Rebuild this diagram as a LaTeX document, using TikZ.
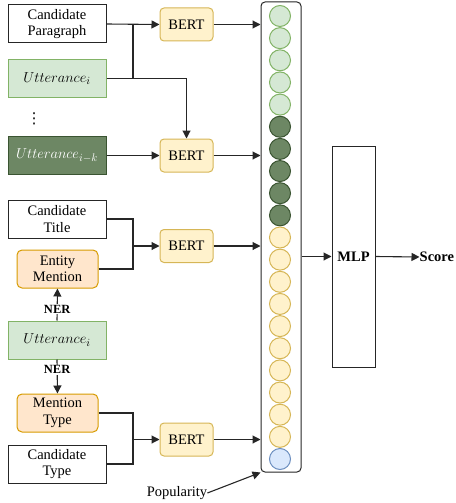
\documentclass[tikz,border=0pt]{standalone}
\usepackage{fontspec}
\setmainfont{Liberation Serif}
\newfontfamily\symfont{DejaVu Sans}
\usetikzlibrary{arrows.meta}
\definecolor{uttfill}{HTML}{D5E8D4}
\definecolor{uttline}{HTML}{82B366}
\definecolor{oldfill}{HTML}{6D8764}
\definecolor{oldline}{HTML}{3A5431}
\definecolor{bertfill}{HTML}{FFF2CC}
\definecolor{bertline}{HTML}{D6B656}
\definecolor{nerfill}{HTML}{FFE6CC}
\definecolor{nerline}{HTML}{D79B00}
\definecolor{popfill}{HTML}{DAE8FC}
\definecolor{popline}{HTML}{6C8EBF}
\begin{document}
\begin{tikzpicture}[x=1pt,y=-1pt,
    font=\fontsize{14.5}{16.5}\selectfont,
    every node/.style={inner sep=0pt},
    txtbox/.style={draw=black!85,fill=white,line width=1pt,
      minimum width=98pt,minimum height=38pt,align=center},
    uttbox/.style={txtbox,draw=uttline,fill=uttfill,
      font=\fontsize{15}{17}\selectfont},
    oldbox/.style={uttbox,draw=oldline,fill=oldfill,text=white},
    nerbox/.style={txtbox,draw=nerline,fill=nerfill,rounded corners=5pt,
      minimum width=81pt},
    bertbox/.style={draw=bertline,fill=bertfill,line width=1pt,
      rounded corners=4pt,minimum width=53pt,minimum height=33pt},
    cell/.style={circle,line width=1pt,minimum size=21pt},
    ycell/.style={cell,draw=bertline,fill=bertfill},
    gcell/.style={cell,draw=uttline,fill=uttfill},
    dcell/.style={cell,draw=oldline,fill=oldfill},
    pcell/.style={cell,draw=popline,fill=popfill},
    boldtext/.style={font=\fontsize{14.5}{17}\selectfont\bfseries},
    nerlabel/.style={fill=white,inner sep=1pt,
      font=\fontsize{12.5}{14}\selectfont\bfseries},
    arr/.style={-{Triangle[length=8pt,width=8pt]},line width=1.1pt,draw=black!85},
    wire/.style={line width=1.1pt,draw=black!85}]
  \useasboundingbox (0,0) rectangle (455,503);
  % inputs
  \node[txtbox] (cp) at (57,24) {Candidate\\Paragraph};
  \node[uttbox] (u1) at (57,78.5) {$Utterance_i$};
  \node[font=\symfont\fontsize{15}{15}\selectfont] (dots) at (34,118.5) {⋮};
  \node[oldbox] (uk) at (57,155.5) {$Utterance_{i-k}$};
  \node[txtbox] (ct) at (57,219) {Candidate\\Title};
  \node[nerbox] (em) at (57.5,269) {Entity\\Mention};
  \node[uttbox] (u2) at (57,340) {$Utterance_i$};
  \node[nerbox] (mt) at (57.5,413) {Mention\\Type};
  \node[txtbox] (cty) at (57,464) {Candidate\\Type};
  \node (pop) at (177,493) {Popularity};
  % encoders
  \node[bertbox] (b1) at (186.5,24.5) {BERT};
  \node[bertbox] (b2) at (186.5,155.5) {BERT};
  \node[bertbox] (b3) at (186.5,246) {BERT};
  \node[bertbox] (b4) at (186.5,439.5) {BERT};
  % feature vector
  \node[draw=black!85,line width=1pt,rounded corners=4pt,
    minimum width=40pt,minimum height=470pt] (col) at (281,237) {};
  \node[gcell] (c1) at (280,16) {};
  \node[gcell] (c2) at (280,38.15) {};
  \node[gcell] (c3) at (280,60.3) {};
  \node[gcell] (c4) at (280,82.45) {};
  \node[gcell] (c5) at (280,104.6) {};
  \node[dcell] (c6) at (280,126.75) {};
  \node[dcell] (c7) at (280,148.9) {};
  \node[dcell] (c8) at (280,171.05) {};
  \node[dcell] (c9) at (280,193.2) {};
  \node[dcell] (c10) at (280,215.35) {};
  \node[ycell] (c11) at (280,237.5) {};
  \node[ycell] (c12) at (280,259.65) {};
  \node[ycell] (c13) at (280,281.8) {};
  \node[ycell] (c14) at (280,303.95) {};
  \node[ycell] (c15) at (280,326.1) {};
  \node[ycell] (c16) at (280,348.25) {};
  \node[ycell] (c17) at (280,370.4) {};
  \node[ycell] (c18) at (280,392.55) {};
  \node[ycell] (c19) at (280,414.7) {};
  \node[ycell] (c20) at (280,436.85) {};
  \node[pcell] (c21) at (280,459) {};
  % classifier
  \node[draw=black!85,line width=1pt,minimum width=43pt,minimum height=221pt,
    boldtext] (mlp) at (353.5,256.5) {MLP};
  \node[anchor=west,boldtext] (score) at (419.5,257) {Score};
  % junctions
  \coordinate (j1) at (133,24);
  \coordinate (j3) at (133,246);
  \coordinate (j4) at (133,439.5);
  % connectors
  \draw[arr] (cp.east) -- (b1.west);
  \draw[wire] (u1.east) -| (j1);
  \draw[arr] (u1.east) -| (b2.north);
  \draw[arr] (uk.east) -- (b2.west);
  \draw[wire] (ct.east) -| (j3);
  \draw[wire] (em.east) -| (j3);
  \draw[arr] (j3) -- (b3.west);
  \draw[wire] (mt.east) -| (j4);
  \draw[wire] (cty.east) -| (j4);
  \draw[arr] (j4) -- (b4.west);
  \draw[arr] (u2.north) -- node[nerlabel,pos=0.35] {NER} (em.south);
  \draw[arr] (u2.south) -- node[nerlabel,pos=0.3] {NER} (mt.north);
  \draw[arr] (b1.east) -- (b1.east -| col.west);
  \draw[arr] (b2.east) -- (b2.east -| col.west);
  \draw[arr] (b3.east) -- (b3.east -| col.west);
  \draw[arr] (b4.east) -- (b4.east -| col.west);
  \draw[arr] (pop.east) -- (col.south west);
  \draw[arr] (mlp.west -| col.east) -- (mlp.west);
  \draw[arr] (mlp.east) -- (score.west);
\end{tikzpicture}
\end{document}
